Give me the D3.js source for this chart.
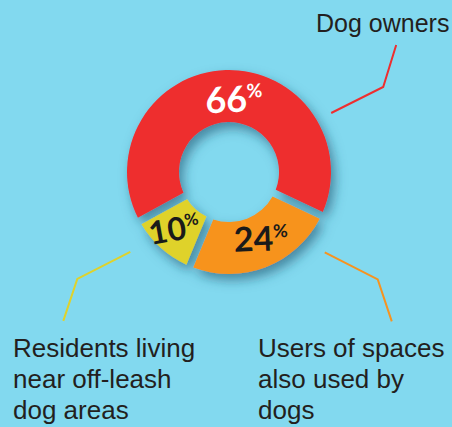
<!DOCTYPE html>
<html>
<head>
<meta charset="utf-8">
<script src="https://cdn.jsdelivr.net/npm/d3@7"></script>
<style>
  html, body { margin: 0; padding: 0; background: #82d9ef; }
  svg { display: block; }
</style>
</head>
<body>
<svg id="drawing_region"></svg>
<script>
// data
const categories = ["Dog owners", "Users of spaces also used by dogs", "Residents living near off-leash dog areas"];
const values = [66, 24, 10];
const label_lines = [
    ["Dog owners"],
    ["Users of spaces", "also used by", "dogs"],
    ["Residents living", "near off-leash", "dog areas"]
];
const colors = ["#ee2e2f", "#f7931f", "#dfd22b"];
const value_colors = ["#ffffff", "#1a1a1a", "#1a1a1a"];

const config = {
    width: 452,
    height: 427,
    cx: 229,
    cy: 172,
    outer: 102,
    inner: 50
};

// leader line: anchor angle (deg), gap from ring, elbow offset, end offset; text x / first baseline
const callouts = [
    { angle: 60, gap: 16, elbow: [52, -26], end: [13, -42], tx: 316, ty: 32, size: 25 },
    { angle: 130, gap: 23, elbow: [53, 27], end: [14, 42], tx: 258, ty: 357, size: 26 },
    { angle: 231, gap: 25, elbow: [-53, 27], end: [-14, 42], tx: 13, ty: 357, size: 26 }
];
const value_style = [
    { size: 36, pct: 19, rot: -3, dx: 8, dy: 16 },
    { size: 34, pct: 18, rot: -2, dx: 5, dy: 8 },
    { size: 32, pct: 17, rot: -10, dx: -2, dy: 12 }
];

const svg = d3.select("#drawing_region")
    .attr("width", config.width)
    .attr("height", config.height);

const defs = svg.append("defs");
const filter = defs.append("filter")
    .attr("id", "shadow")
    .attr("x", "-30%").attr("y", "-30%")
    .attr("width", "160%").attr("height", "160%");
filter.append("feDropShadow")
    .attr("dx", 4).attr("dy", 6)
    .attr("stdDeviation", 6)
    .attr("flood-color", "#1d4f6b")
    .attr("flood-opacity", 0.6);

const table = categories.map((c, i) => ({ name: c, value: values[i], color: colors[i], index: i }));

const start = -Math.PI * values[0] / 100;
const pie = d3.pie()
    .value(d => d.value)
    .sort(null)
    .startAngle(start)
    .endAngle(start + 2 * Math.PI)
    .padAngle(0.065);

const arc = d3.arc()
    .innerRadius(config.inner)
    .outerRadius(config.outer);

const chart = svg.append("g")
    .attr("transform", `translate(${config.cx}, ${config.cy})`);

const arcs = pie(table);

chart.append("g")
    .attr("filter", "url(#shadow)")
    .selectAll("path")
    .data(arcs)
    .enter()
    .append("path")
    .attr("d", arc)
    .attr("fill", d => d.data.color);

// value labels
const vlabels = chart.selectAll("g.value")
    .data(arcs)
    .enter()
    .append("g")
    .attr("class", "value")
    .attr("transform", d => {
        const c = arc.centroid(d);
        const s = value_style[d.data.index];
        return `translate(${c[0] + s.dx}, ${c[1] + s.dy}) rotate(${s.rot})`;
    });

vlabels.append("text")
    .attr("text-anchor", "middle")
    .attr("font-family", "Lato, 'DejaVu Sans', sans-serif")
    .attr("font-weight", "bold")
    .attr("fill", d => value_colors[d.data.index])
    .each(function(d) {
        const s = value_style[d.data.index];
        const t = d3.select(this);
        t.append("tspan")
            .attr("font-size", s.size)
            .text(d.data.value);
        t.append("tspan")
            .attr("font-size", s.pct)
            .attr("dy", -s.size * 0.38)
            .text("%");
    });

// leader lines
const polar = (deg, r) => {
    const a = deg * Math.PI / 180;
    return [config.cx + r * Math.sin(a), config.cy - r * Math.cos(a)];
};
const line = d3.line();

svg.selectAll("path.leader")
    .data(callouts)
    .enter()
    .append("path")
    .attr("class", "leader")
    .attr("d", d => {
        const p0 = polar(d.angle, config.outer + d.gap);
        const p1 = [p0[0] + d.elbow[0], p0[1] + d.elbow[1]];
        const p2 = [p1[0] + d.end[0], p1[1] + d.end[1]];
        return line([p0, p1, p2]);
    })
    .attr("fill", "none")
    .attr("stroke", (d, i) => colors[i])
    .attr("stroke-width", 2);

// category labels
svg.selectAll("text.cat")
    .data(callouts)
    .enter()
    .append("text")
    .attr("class", "cat")
    .attr("font-family", "'Liberation Sans', Arial, sans-serif")
    .attr("font-size", d => d.size)
    .attr("fill", "#231f20")
    .each(function(d, i) {
        d3.select(this).selectAll("tspan")
            .data(label_lines[i])
            .enter()
            .append("tspan")
            .attr("x", d.tx)
            .attr("y", (t, j) => d.ty + j * 31)
            .text(t => t);
    });
</script>
</body>
</html>
